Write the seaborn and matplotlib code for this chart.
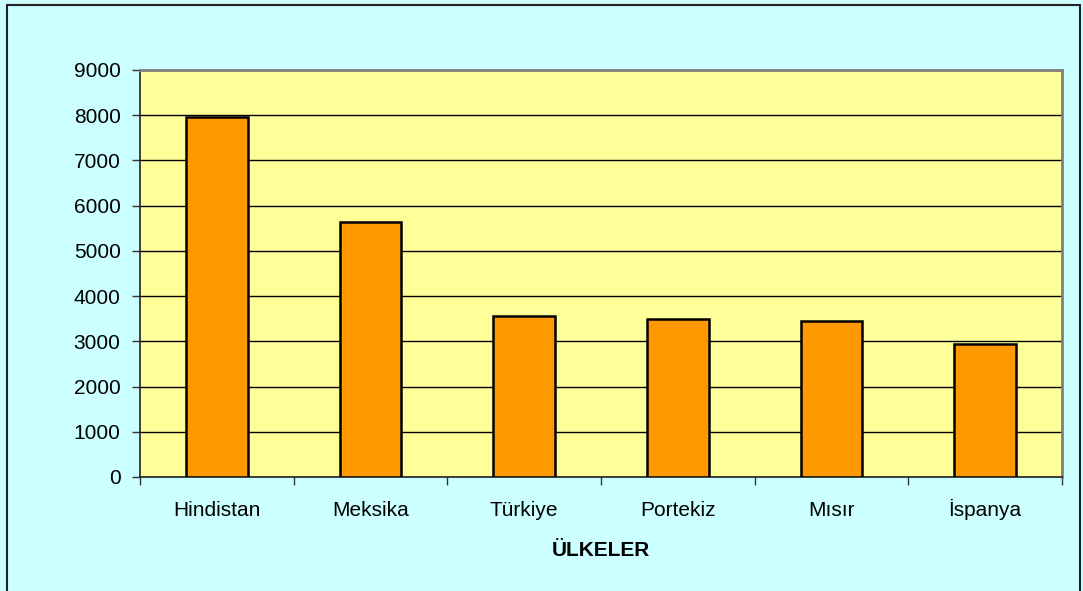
import numpy as np
import pandas as pd
import matplotlib.pyplot as plt
from matplotlib.lines import Line2D
import seaborn as sns

# data
countries = ["Hindistan", "Meksika", "Türkiye", "Portekiz", "Mısır", "İspanya"]
values = [7950, 5640, 3570, 3490, 3450, 2940]
y_ticks = [0, 1000, 2000, 3000, 4000, 5000, 6000, 7000, 8000, 9000]

df = pd.DataFrame({"country": countries, "value": values})

sns.set_style("white")
plt.rcParams["font.family"] = ["Liberation Sans", "DejaVu Sans"]
plt.rcParams["text.color"] = "black"
plt.rcParams["xtick.color"] = "black"
plt.rcParams["ytick.color"] = "black"
plt.rcParams["axes.labelcolor"] = "black"

fig = plt.figure(figsize=(10.83, 5.91), dpi=100, facecolor="#CCFFFF")
ax = fig.add_axes([140 / 1083, 1 - 477 / 591, 922 / 1083, 407 / 591])
ax.set_facecolor("#FFFF99")

sns.barplot(data=df, x="country", y="value", color="#FF9900",
            edgecolor="black", linewidth=1.8, width=0.4, saturation=1, ax=ax, zorder=3)

ax.set_ylim(0, 9000)
ax.set_xlim(-0.5, len(countries) - 0.5)
ax.set_yticks(y_ticks)
ax.set_yticklabels([str(t) for t in y_ticks], fontsize=15)
ax.yaxis.grid(True, color="black", linewidth=1)
ax.set_axisbelow(True)

# ticks between categories, labels under the bars
ax.set_xticks(np.arange(-0.5, len(countries)))
ax.set_xticklabels([""] * (len(countries) + 1))
ax.set_xticks(np.arange(len(countries)), minor=True)
ax.set_xticklabels(countries, minor=True, fontsize=15)
for lab in ax.get_xticklabels(minor=True):
    lab.set_verticalalignment("baseline")
ax.tick_params(axis="x", which="major", length=6, width=1, color="#333333", direction="out")
ax.tick_params(axis="x", which="minor", length=0, pad=28)
ax.tick_params(axis="y", length=6, width=1, color="#333333", direction="out", pad=8)
ax.tick_params(left=True, bottom=True)

ax.set_xlabel("ÜLKELER", fontsize=15, fontweight="bold", labelpad=15)
ax.set_ylabel("")

for side in ["left", "bottom"]:
    ax.spines[side].set_color("#222222")
    ax.spines[side].set_linewidth(1.2)
for side in ["top", "right"]:
    ax.spines[side].set_visible(True)
    ax.spines[side].set_color("#808080")
    ax.spines[side].set_linewidth(2)

# outer frame (bottom edge runs off the image)
W, H = 1083, 591
fig.add_artist(Line2D([7 / W, 7 / W], [0, 1 - 5 / H], color="#222222", lw=1.5))
fig.add_artist(Line2D([7 / W, 1080 / W], [1 - 5 / H, 1 - 5 / H], color="#222222", lw=1.5))
fig.add_artist(Line2D([1080 / W, 1080 / W], [0, 1 - 5 / H], color="#222222", lw=1.5))

fig.savefig("out.png", dpi=100, facecolor=fig.get_facecolor())
